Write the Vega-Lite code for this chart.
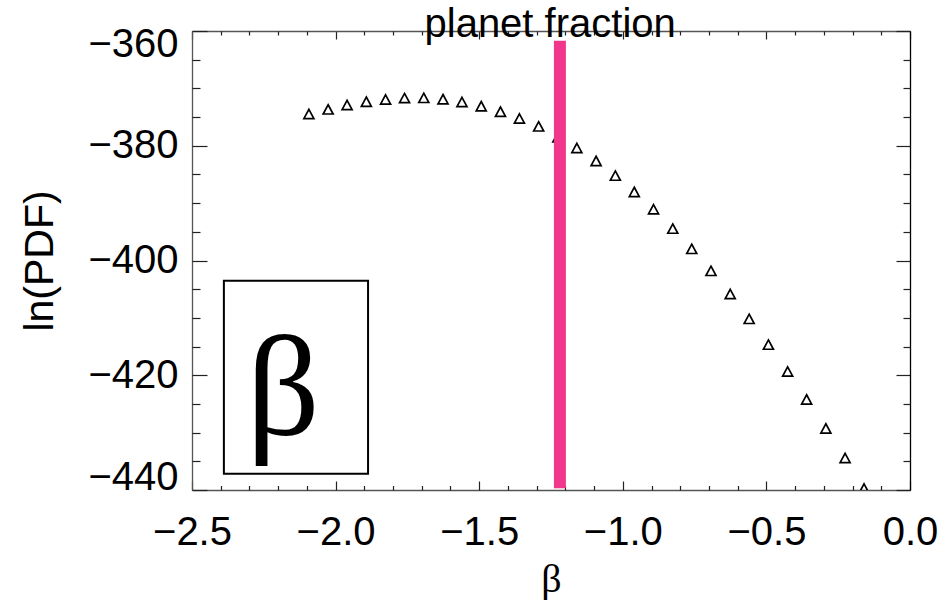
{
  "$schema": "https://vega.github.io/schema/vega-lite/v6.json",
  "autosize": "none",
  "width": 718,
  "height": 459,
  "padding": {"left": 192, "top": 31, "right": 33, "bottom": 110},
  "background": "white",
  "config": {
    "view": {"stroke": null},
    "font": "Liberation Sans",
    "axis": {"grid": false, "labelColor": "black", "titleColor": "black", "tickColor": "#222", "domainColor": "#555", "domainWidth": 1.3, "tickWidth": 1.2, "zindex": 1}
  },
  "datasets": {
    "pdf": [
      {"beta": -2.093, "lnpdf": -374.46},
      {"beta": -2.026, "lnpdf": -373.66},
      {"beta": -1.960, "lnpdf": -372.89},
      {"beta": -1.893, "lnpdf": -372.31},
      {"beta": -1.826, "lnpdf": -371.93},
      {"beta": -1.760, "lnpdf": -371.69},
      {"beta": -1.693, "lnpdf": -371.65},
      {"beta": -1.626, "lnpdf": -371.88},
      {"beta": -1.560, "lnpdf": -372.38},
      {"beta": -1.493, "lnpdf": -373.10},
      {"beta": -1.426, "lnpdf": -374.06},
      {"beta": -1.360, "lnpdf": -375.24},
      {"beta": -1.293, "lnpdf": -376.62},
      {"beta": -1.226, "lnpdf": -378.50},
      {"beta": -1.160, "lnpdf": -380.38},
      {"beta": -1.093, "lnpdf": -382.64},
      {"beta": -1.026, "lnpdf": -385.20},
      {"beta": -0.960, "lnpdf": -388.04},
      {"beta": -0.893, "lnpdf": -391.06},
      {"beta": -0.826, "lnpdf": -394.44},
      {"beta": -0.760, "lnpdf": -397.97},
      {"beta": -0.693, "lnpdf": -401.80},
      {"beta": -0.626, "lnpdf": -405.83},
      {"beta": -0.560, "lnpdf": -410.17},
      {"beta": -0.493, "lnpdf": -414.66},
      {"beta": -0.426, "lnpdf": -419.35},
      {"beta": -0.360, "lnpdf": -424.21},
      {"beta": -0.293, "lnpdf": -429.26},
      {"beta": -0.226, "lnpdf": -434.43},
      {"beta": -0.160, "lnpdf": -439.74}
    ],
    "planet": [
      {"beta": -1.219, "top": -361.7, "bottom": -439.7}
    ]
  },
  "resolve": {"axis": {"x": "independent", "y": "independent"}},
  "layer": [
    {
      "data": {"name": "pdf"},
      "mark": {"type": "point", "shape": "M0,-0.93L1,0.93L-1,0.93Z", "size": 100, "filled": false, "stroke": "black", "strokeWidth": 1.7, "opacity": 1, "clip": true},
      "encoding": {
        "x": {"field": "beta", "type": "quantitative",
          "scale": {"domain": [-2.5, 0], "nice": false, "zero": false},
          "axis": {"orient": "bottom", "values": [-2.5, -2, -1.5, -1, -0.5, 0], "format": ".1f", "ticks": false, "domain": true, "labelFontSize": 40, "labelPadding": 22, "labelFlush": false, "labelOverlap": false, "title": "β", "titleFont": "Liberation Serif", "titleFontSize": 40, "titleFontWeight": "normal", "titlePadding": 7}},
        "y": {"field": "lnpdf", "type": "quantitative",
          "scale": {"domain": [-440, -360], "nice": false, "zero": false},
          "axis": {"orient": "left", "values": [-440, -420, -400, -380, -360], "format": "d", "ticks": false, "domain": true, "labelFontSize": 40, "labelPadding": 14, "labelFlush": true, "labelFlushOffset": 7, "labelOverlap": false, "title": "ln(PDF)", "titleFontSize": 41, "titleFontWeight": "normal", "titlePadding": 26}}
      }
    },
    {
      "data": {"name": "pdf"},
      "mark": {"type": "point", "opacity": 0},
      "encoding": {
        "x": {"field": "beta", "type": "quantitative", "scale": {"domain": [-2.5, 0], "nice": false, "zero": false},
          "axis": {"orient": "bottom", "values": [-2.5, -2, -1.5, -1, -0.5, 0], "labels": false, "domain": false, "ticks": true, "tickSize": -9, "title": null}},
        "y": {"field": "lnpdf", "type": "quantitative", "scale": {"domain": [-440, -360], "nice": false, "zero": false},
          "axis": {"orient": "left", "values": [-440, -420, -400, -380, -360], "labels": false, "domain": false, "ticks": true, "tickSize": -15, "title": null}}
      }
    },
    {
      "data": {"name": "pdf"},
      "mark": {"type": "point", "opacity": 0},
      "encoding": {
        "x": {"field": "beta", "type": "quantitative", "scale": {"domain": [-2.5, 0], "nice": false, "zero": false},
          "axis": {"orient": "bottom", "values": [-2.4, -2.3, -2.2, -2.1, -1.9, -1.8, -1.7, -1.6, -1.4, -1.3, -1.2, -1.1, -0.9, -0.8, -0.7, -0.6, -0.4, -0.3, -0.2, -0.1], "labels": false, "domain": false, "ticks": true, "tickSize": -4.5, "title": null}},
        "y": {"field": "lnpdf", "type": "quantitative", "scale": {"domain": [-440, -360], "nice": false, "zero": false},
          "axis": {"orient": "left", "values": [-435, -430, -425, -415, -410, -405, -395, -390, -385, -375, -370, -365], "labels": false, "domain": false, "ticks": true, "tickSize": -8, "title": null}}
      }
    },
    {
      "data": {"name": "pdf"},
      "mark": {"type": "point", "opacity": 0},
      "encoding": {
        "x": {"field": "beta", "type": "quantitative", "scale": {"domain": [-2.5, 0], "nice": false, "zero": false},
          "axis": {"orient": "top", "values": [-2.5, -2, -1.5, -1, -0.5, 0], "labels": false, "domain": true, "ticks": true, "tickSize": -8, "title": null}},
        "y": {"field": "lnpdf", "type": "quantitative", "scale": {"domain": [-440, -360], "nice": false, "zero": false},
          "axis": {"orient": "right", "values": [-440, -420, -400, -380, -360], "labels": false, "domain": true, "domainColor": "black", "ticks": true, "tickSize": -14, "title": null}}
      }
    },
    {
      "data": {"name": "pdf"},
      "mark": {"type": "point", "opacity": 0},
      "encoding": {
        "x": {"field": "beta", "type": "quantitative", "scale": {"domain": [-2.5, 0], "nice": false, "zero": false},
          "axis": {"orient": "top", "values": [-2.4, -2.3, -2.2, -2.1, -1.9, -1.8, -1.7, -1.6, -1.4, -1.3, -1.2, -1.1, -0.9, -0.8, -0.7, -0.6, -0.4, -0.3, -0.2, -0.1], "labels": false, "domain": false, "ticks": true, "tickSize": -4, "title": null}},
        "y": {"field": "lnpdf", "type": "quantitative", "scale": {"domain": [-440, -360], "nice": false, "zero": false},
          "axis": {"orient": "right", "values": [-435, -430, -425, -415, -410, -405, -395, -390, -385, -375, -370, -365], "labels": false, "domain": false, "ticks": true, "tickSize": -7, "title": null}}
      }
    },
    {
      "data": {"name": "planet"},
      "mark": {"type": "rule", "color": "#F0378C", "strokeWidth": 12, "strokeCap": "butt"},
      "encoding": {
        "x": {"field": "beta", "type": "quantitative", "axis": null},
        "y": {"field": "top", "type": "quantitative", "axis": null},
        "y2": {"field": "bottom"}
      }
    },
    {
      "data": {"values": [{}]},
      "mark": {"type": "rect", "filled": false, "fill": null, "stroke": "black", "strokeWidth": 2},
      "encoding": {
        "x": {"datum": -2.389, "type": "quantitative", "axis": null},
        "x2": {"datum": -1.887},
        "y": {"datum": -403.55, "type": "quantitative", "axis": null},
        "y2": {"datum": -437.16}
      }
    },
    {
      "data": {"values": [{}]},
      "mark": {"type": "text", "text": "β", "font": "Liberation Serif", "fontSize": 144, "align": "center", "baseline": "alphabetic", "color": "black"},
      "encoding": {
        "x": {"datum": -2.183, "type": "quantitative", "axis": null},
        "y": {"datum": -430.4, "type": "quantitative", "axis": null}
      }
    },
    {
      "data": {"values": [{}]},
      "mark": {"type": "text", "text": "planet fraction", "font": "Liberation Sans", "fontSize": 40, "align": "center", "baseline": "alphabetic", "color": "black", "clip": false},
      "encoding": {
        "x": {"datum": -1.253, "type": "quantitative", "axis": null},
        "y": {"datum": -361.05, "type": "quantitative", "axis": null}
      }
    }
  ]
}
